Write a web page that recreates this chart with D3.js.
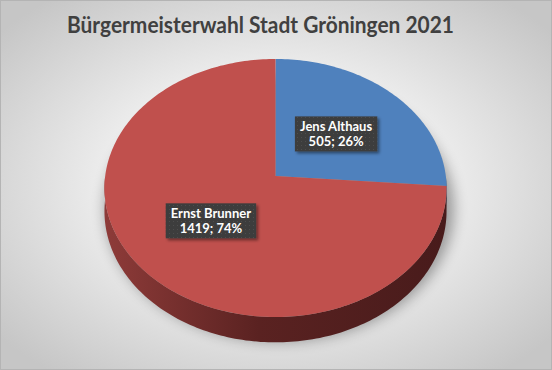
<!DOCTYPE html>
<html>
  <head>
    <meta charset="utf-8" />
    <title>Bürgermeisterwahl Stadt Gröningen 2021</title>
    <script src="https://d3js.org/d3.v7.min.js"></script>
    <style>
      body { margin: 0; }
      .title { font: bold 23px Lato, sans-serif; fill: #404040; }
      .lbl text { font: bold 13px Lato, sans-serif; fill: #fff; text-anchor: middle; }
    </style>
  </head>
  <body>
    <svg width="552" height="370"></svg>
    <script>
      const names = ["Jens Althaus", "Ernst Brunner"];
      const votes = [505, 1419];
      const colors = ["#4f81bd", "#c0504d"];

      const svg = d3.select("svg"),
            width = +svg.attr("width"),
            height = +svg.attr("height");

      const defs = svg.append("defs");

      // background gradient
      const bg = defs.append("radialGradient").attr("id", "bg")
        .attr("cx", "50%").attr("cy", "50%").attr("r", "65%");
      bg.append("stop").attr("offset", "0%").attr("stop-color", "#ffffff");
      bg.append("stop").attr("offset", "35%").attr("stop-color", "#f6f6f6");
      bg.append("stop").attr("offset", "100%").attr("stop-color", "#c6c6c6");

      const side = defs.append("linearGradient").attr("id", "side")
        .attr("gradientUnits", "userSpaceOnUse")
        .attr("x1", 105).attr("x2", 447).attr("y1", 0).attr("y2", 0);
      side.append("stop").attr("offset", "0%").attr("stop-color", "#8e3b39");
      side.append("stop").attr("offset", "45%").attr("stop-color", "#5a2221");
      side.append("stop").attr("offset", "100%").attr("stop-color", "#481b1b");

      defs.append("filter").attr("id", "blur")
        .attr("x", "-20%").attr("y", "-20%").attr("width", "140%").attr("height", "140%")
        .append("feGaussianBlur").attr("stdDeviation", 7);

      const ds = defs.append("filter").attr("id", "ds")
        .attr("x", "-20%").attr("y", "-20%").attr("width", "150%").attr("height", "150%");
      ds.append("feDropShadow").attr("dx", 2).attr("dy", 2).attr("stdDeviation", 1.5)
        .attr("flood-color", "#000").attr("flood-opacity", 0.45);

      const pat = defs.append("pattern").attr("id", "dots")
        .attr("patternUnits", "userSpaceOnUse").attr("width", 4).attr("height", 4);
      pat.append("rect").attr("width", 4).attr("height", 4).attr("fill", "#3c3c3c");
      pat.append("rect").attr("x", 1).attr("y", 1).attr("width", 1).attr("height", 1).attr("fill", "#4d4d4d");

      svg.append("rect")
        .attr("x", 0.5).attr("y", 0.5)
        .attr("width", width - 1).attr("height", height - 1)
        .attr("fill", "url(#bg)")
        .attr("stroke", "#b4b4b4");

      svg.append("text")
        .attr("class", "title")
        .attr("x", 260.5).attr("y", 33)
        .attr("text-anchor", "middle")
        .attr("textLength", 387).attr("lengthAdjust", "spacingAndGlyphs")
        .text("Bürgermeisterwahl Stadt Gröningen 2021");

      // perspective projection of the pie disc
      const cx = 275.5, cy = 176, A = 170.3, B = 127.9, k = 0.093, depth = 23;
      function proj(a, r, dz) {
        const u = r * Math.sin(a), v = -r * Math.cos(a), w = 1 - k * v;
        return [cx + A * u / w, cy + B * v / w + dz / w];
      }
      function arcPts(a0, a1, r, dz) {
        const n = Math.max(2, Math.ceil((a1 - a0) / 0.02));
        return d3.range(n + 1).map(i => proj(a0 + (a1 - a0) * i / n, r, dz));
      }
      const line = d3.line();

      const arcs = d3.pie().sort(null).value(d => d)(votes);

      // soft shadow
      svg.append("path")
        .attr("d", line(arcPts(0, 2 * Math.PI, 1.02, depth * 0.6)) + "Z")
        .attr("fill", "#000").attr("opacity", 0.35)
        .attr("transform", "translate(4,6)")
        .attr("filter", "url(#blur)");

      // sides (front half only)
      arcs.forEach((d, i) => {
        const a0 = Math.max(d.startAngle, Math.PI / 2),
              a1 = Math.min(d.endAngle, 3 * Math.PI / 2);
        if (a1 <= a0) return;
        const pts = arcPts(a0, a1, 1, 0).concat(arcPts(a0, a1, 1, depth).reverse());
        svg.append("path")
          .attr("d", line(pts) + "Z")
          .attr("fill", i === 1 ? "url(#side)" : d3.color(colors[i]).darker(1.2));
      });

      // top faces
      arcs.forEach((d, i) => {
        const pts = [proj(0, 0, 0)].concat(arcPts(d.startAngle, d.endAngle, 1, 0));
        svg.append("path")
          .attr("d", line(pts) + "Z")
          .attr("fill", colors[i]);
      });

      // data labels
      const total = d3.sum(votes);
      arcs.forEach((d, i) => {
        const [x, y] = proj((d.startAngle + d.endAngle) / 2, 0.5, 0);
        const g = svg.append("g").attr("class", "lbl");
        const rect = g.append("rect").attr("fill", "url(#dots)").attr("filter", "url(#ds)");
        const t = g.append("text");
        t.append("tspan").attr("x", x).attr("y", y - 2.5).text(names[i]);
        t.append("tspan").attr("x", x).attr("y", y + 12.5)
          .text(votes[i] + "; " + Math.round(votes[i] / total * 100) + "%");
        const bb = t.node().getBBox();
        rect.attr("x", x - bb.width / 2 - 5).attr("y", y - 17.5)
          .attr("width", bb.width + 10).attr("height", 35);
      });
    </script>
  </body>
</html>
